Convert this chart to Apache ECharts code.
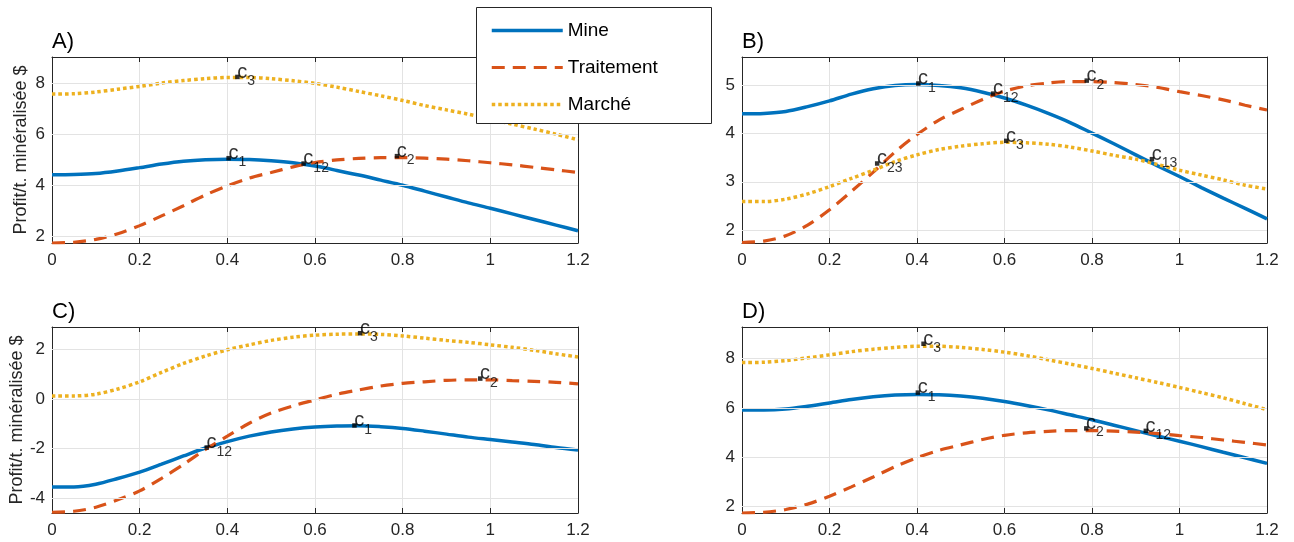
<!DOCTYPE html>
<html><head><meta charset="utf-8">
<script src="https://cdn.jsdelivr.net/npm/echarts@6/dist/echarts.min.js"></script>
<style>html,body{margin:0;padding:0;background:#fff}#c{width:1294px;height:542px}</style>
</head><body><div id="c"></div>
<script>
// ---- data ----
const xs = [0, 0.05, 0.1, 0.15, 0.2, 0.25, 0.3, 0.35, 0.4, 0.45, 0.5, 0.55, 0.6,
            0.65, 0.7, 0.75, 0.8, 0.85, 0.9, 0.95, 1.0, 1.05, 1.1, 1.15, 1.2];
const seriesNames = ['Mine', 'Traitement', 'Marché'];
const panelTitles = ['A)', 'B)', 'C)', 'D)'];
const yLabel = 'Profit/t. minéralisée $';

const mineA = [4.41, 4.42, 4.46, 4.56, 4.69, 4.83, 4.94, 5.0, 5.02, 5.01, 4.96, 4.88, 4.75,
               4.58, 4.4, 4.2, 4.0, 3.77, 3.54, 3.31, 3.1, 2.88, 2.66, 2.44, 2.22];
const traitA = [1.74, 1.77, 1.88, 2.1, 2.42, 2.8, 3.2, 3.62, 3.98, 4.28, 4.5, 4.72, 4.89,
                4.99, 5.05, 5.08, 5.08, 5.06, 5.02, 4.96, 4.88, 4.8, 4.7, 4.6, 4.5];
const marcheA = [7.57, 7.58, 7.65, 7.76, 7.87, 8.0, 8.1, 8.17, 8.22, 8.22, 8.17, 8.09, 7.99,
                 7.84, 7.67, 7.5, 7.32, 7.12, 6.95, 6.78, 6.59, 6.39, 6.2, 6.0, 5.78];

const mineB = [4.41, 4.42, 4.46, 4.56, 4.68, 4.82, 4.93, 5.0, 5.02, 5.0, 4.95, 4.86, 4.74,
               4.59, 4.42, 4.23, 4.01, 3.79, 3.56, 3.33, 3.11, 2.88, 2.66, 2.45, 2.23];
const traitB = [1.74, 1.77, 1.88, 2.1, 2.42, 2.8, 3.2, 3.62, 3.98, 4.28, 4.5, 4.71, 4.88,
                4.99, 5.05, 5.08, 5.08, 5.06, 5.02, 4.96, 4.87, 4.79, 4.7, 4.59, 4.49];
const marcheB = [2.59, 2.59, 2.64, 2.75, 2.9, 3.07, 3.24, 3.42, 3.56, 3.67, 3.74, 3.79, 3.82,
                 3.81, 3.78, 3.72, 3.64, 3.55, 3.47, 3.36, 3.24, 3.14, 3.04, 2.93, 2.85];

const mineC = [-3.55, -3.55, -3.44, -3.21, -2.95, -2.63, -2.3, -1.98, -1.72, -1.5, -1.33, -1.21, -1.13,
               -1.09, -1.08, -1.12, -1.19, -1.3, -1.42, -1.54, -1.64, -1.74, -1.84, -1.96, -2.06];
const traitC = [-4.57, -4.53, -4.37, -4.07, -3.71, -3.2, -2.64, -2.04, -1.5, -0.98, -0.57, -0.28, -0.04,
                0.19, 0.36, 0.52, 0.63, 0.69, 0.75, 0.77, 0.77, 0.74, 0.71, 0.67, 0.61];
const marcheC = [0.12, 0.12, 0.19, 0.4, 0.69, 1.07, 1.43, 1.73, 1.98, 2.18, 2.36, 2.49, 2.57,
                 2.61, 2.62, 2.6, 2.54, 2.45, 2.36, 2.28, 2.18, 2.08, 1.96, 1.82, 1.69];

const mineD = [5.92, 5.92, 5.96, 6.07, 6.2, 6.34, 6.45, 6.52, 6.54, 6.53, 6.48, 6.39, 6.26,
               6.1, 5.92, 5.72, 5.52, 5.3, 5.08, 4.86, 4.65, 4.43, 4.2, 3.98, 3.75];
const traitD = [1.74, 1.77, 1.88, 2.1, 2.42, 2.8, 3.2, 3.62, 3.98, 4.28, 4.5, 4.72, 4.89,
                4.99, 5.05, 5.08, 5.08, 5.06, 5.02, 4.96, 4.88, 4.8, 4.7, 4.6, 4.5];
const marcheD = [7.84, 7.85, 7.92, 8.03, 8.15, 8.28, 8.38, 8.45, 8.5, 8.5, 8.45, 8.37, 8.26,
                 8.12, 7.95, 7.78, 7.6, 7.41, 7.22, 7.03, 6.83, 6.62, 6.41, 6.17, 5.93];

// marked points [x, y, subscript]
const ptsA = [[0.403, 5.06, '1'], [0.574, 4.85, '12'], [0.787, 5.14, '2'], [0.423, 8.24, '3']];
const ptsB = [[0.403, 5.04, '1'], [0.574, 4.83, '12'], [0.788, 5.1, '2'], [0.604, 3.85, '3'], [0.309, 3.38, '23'], [0.937, 3.47, '13']];
const ptsC = [[0.703, 2.65, '3'], [0.977, 0.82, '2'], [0.69, -1.07, '1'], [0.353, -1.96, '12']];
const ptsD = [[0.415, 8.6, '3'], [0.402, 6.62, '1'], [0.787, 5.17, '2'], [0.923, 5.07, '12']];

// axis ranges and ticks
const yRanges = [[1.74, 9.02], [1.73, 5.59], [-4.6, 2.9], [1.74, 9.28]];
const yTicks = [[2, 4, 6, 8], [2, 3, 4, 5], [-4, -2, 0, 2], [2, 4, 6, 8]];

// ---- layout / style ----
const FONT = 'Liberation Sans';
const AX = '#262626';
const GRIDC = '#e3e3e3';
const grids = [
  {left: 52, top: 57, width: 526, height: 186},
  {left: 742, top: 57, width: 525, height: 186},
  {left: 52, top: 327, width: 526, height: 186},
  {left: 742, top: 327, width: 525, height: 186}
];
const panels = [
  {mine: mineA, trait: traitA, marche: marcheA, pts: ptsA},
  {mine: mineB, trait: traitB, marche: marcheB, pts: ptsB},
  {mine: mineC, trait: traitC, marche: marcheC, pts: ptsC},
  {mine: mineD, trait: traitD, marche: marcheD, pts: ptsD}
];
const lineStyles = [
  {color: '#0072BD', width: 3.5, type: 'solid'},
  {color: '#D95319', width: 3.2, type: [13, 8]},
  {color: '#EDB120', width: 3.5, type: [3.5, 3]}
];

const xAxes = [], yAxes = [], series = [], titles = [];
panels.forEach((p, i) => {
  const tickCommon = {show: true, inside: true, length: 5, lineStyle: {color: AX, width: 1}};
  xAxes.push({
    type: 'value', gridIndex: i, min: 0, max: 1.2, interval: 0.2, position: 'bottom',
    axisLine: {show: true, onZero: false, lineStyle: {color: AX, width: 1}},
    axisTick: tickCommon,
    axisLabel: {show: true, margin: 9, fontSize: 17, color: AX, fontFamily: FONT},
    splitLine: {show: true, lineStyle: {color: GRIDC, width: 1}}
  });
  xAxes.push({
    type: 'value', gridIndex: i, min: 0, max: 1.2, interval: 0.2, position: 'top',
    axisLine: {show: true, onZero: false, lineStyle: {color: AX, width: 1}},
    axisTick: tickCommon, axisLabel: {show: false}, splitLine: {show: false}
  });
  const yl = {
    type: 'value', gridIndex: i, min: yRanges[i][0], max: yRanges[i][1], position: 'left',
    axisLine: {show: true, onZero: false, lineStyle: {color: AX, width: 1}},
    axisTick: Object.assign({customValues: yTicks[i]}, tickCommon),
    axisLabel: {show: true, customValues: yTicks[i], margin: 7, fontSize: 17, color: AX, fontFamily: FONT},
    splitLine: {show: false}
  };
  if (i % 2 === 0) {
    yl.name = yLabel; yl.nameLocation = 'middle'; yl.nameGap = 22;
    yl.nameTextStyle = {fontSize: 18, color: AX, fontFamily: FONT};
  }
  yAxes.push(yl);
  yAxes.push({
    type: 'value', gridIndex: i, min: yRanges[i][0], max: yRanges[i][1], position: 'right',
    axisLine: {show: true, onZero: false, lineStyle: {color: AX, width: 1}},
    axisTick: Object.assign({customValues: yTicks[i]}, tickCommon),
    axisLabel: {show: false}, splitLine: {show: false}
  });
  const xi = i * 2, yi = i * 2;
  const vals = [p.mine, p.trait, p.marche];
  vals.forEach((v, k) => {
    const s = {
      name: seriesNames[k], type: 'line', xAxisIndex: xi, yAxisIndex: yi,
      data: xs.map((x, j) => [x, v[j]]), smooth: 0.3, symbol: 'none',
      lineStyle: Object.assign({cap: 'butt'}, lineStyles[k]),
      itemStyle: {color: lineStyles[k].color}, z: 3, animation: false
    };
    if (k === 0) {
      s.markLine = {
        silent: true, symbol: 'none', label: {show: false}, animation: false,
        lineStyle: {color: GRIDC, width: 1, type: 'solid'},
        data: yTicks[i].map(t => ({yAxis: t}))
      };
    }
    series.push(s);
  });
  series.push({
    type: 'scatter', xAxisIndex: xi, yAxisIndex: yi, data: p.pts,
    symbol: 'rect', symbolSize: 4.5, itemStyle: {color: '#000'}, z: 10, animation: false,
    label: {
      show: true, position: [2, -12.5], align: 'left', verticalAlign: 'top',
      formatter: d => '{c|c}{s|' + d.data[2] + '}',
      rich: {
        c: {fontSize: 20, lineHeight: 20, verticalAlign: 'top', color: '#000', fontFamily: FONT},
        s: {fontSize: 14, lineHeight: 14, padding: [12, 0, 0, 0], verticalAlign: 'top', color: '#000', fontFamily: FONT}
      }
    }
  });
  titles.push({
    text: panelTitles[i], left: grids[i].left, top: grids[i].top - 26, padding: 0,
    textStyle: {fontSize: 22, fontWeight: 'normal', color: '#000', fontFamily: FONT}
  });
});

const chart = echarts.init(document.getElementById('c'), null, {renderer: 'canvas'});
chart.setOption({
  animation: false,
  backgroundColor: '#fff',
  textStyle: {fontFamily: FONT},
  title: titles,
  grid: grids,
  xAxis: xAxes,
  yAxis: yAxes,
  series: series,
  legend: {
    data: seriesNames.map((n, k) => ({
      name: n,
      lineStyle: {width: lineStyles[k].width, type: lineStyles[k].type, color: lineStyles[k].color, cap: 'butt'}
    })),
    orient: 'vertical', left: 490, top: 21, padding: 0,
    itemWidth: 71, itemHeight: 14, itemGap: 18, z: 20,
    itemStyle: {color: 'transparent', borderColor: 'transparent', borderWidth: 0, opacity: 0},
    textStyle: {fontSize: 19, color: '#000', fontFamily: FONT},
    selectedMode: false
  },
  graphic: [{
    type: 'rect', left: 476, top: 7, z: 15,
    shape: {width: 235, height: 116},
    style: {fill: '#fff', stroke: AX, lineWidth: 1}
  }]
});
</script></body></html>
